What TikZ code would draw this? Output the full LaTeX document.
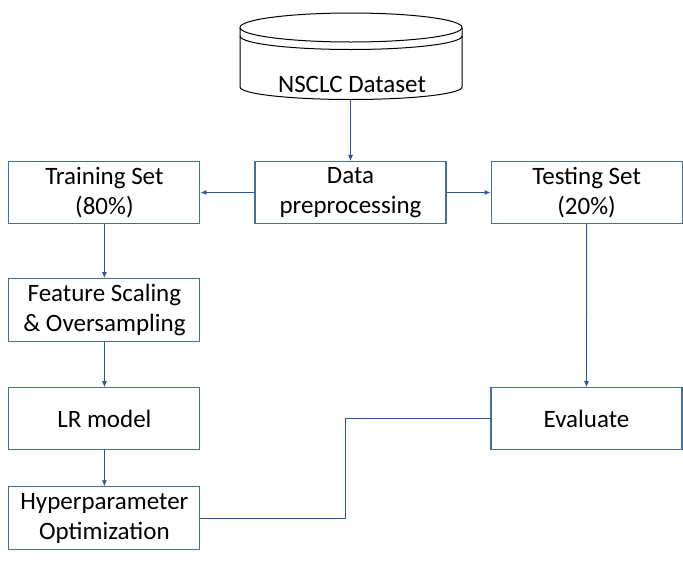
\documentclass[tikz,border=0pt]{standalone}
\usepackage{fontspec}
\setmainfont{Carlito}
\usetikzlibrary{positioning, arrows.meta}
\definecolor{boxline}{RGB}{65,113,156}
\definecolor{linkline}{RGB}{47,85,151}
\tikzstyle{module} = [rectangle, minimum width=191pt, minimum height=62pt, text centered, align=center, draw=boxline, line width=1.1pt, inner sep=0pt, font=\fontsize{25}{30}\selectfont]
\tikzstyle{link} = [draw=linkline, line width=0.9pt, -{Latex[length=6pt,width=5pt]}]
\tikzstyle{wire} = [draw=linkline, line width=0.9pt]

\begin{document}
\begin{tikzpicture}[x=1pt, y=-1pt]
        \useasboundingbox (0,0) rectangle (683,571);

        % dataset cylinder
        \draw[black, line width=1pt] (240,27.5) -- (240,87) arc[start angle=180, end angle=0, x radius=111, y radius=12.5] -- (462,27.5);
        \draw[black, line width=1pt] (351,27.5) ellipse [x radius=111, y radius=14.5];
        \draw[black, line width=1pt] (240,36) arc[start angle=180, end angle=0, x radius=111, y radius=13.5];
        \node[font=\fontsize{25}{30}\selectfont] (dataset) at (352,84) {NSCLC Dataset};
        \coordinate (dsbot) at (350.5,99.5);

        \node[module] (data) at (350.5,192.5) {Data\\preprocessing};
        \node[module, left=54pt of data] (train) {Training Set\\(80\%)};
        \node[module, right=44pt of data] (test) {Testing Set\\(20\%)};
        \node[module, minimum height=63pt, below=54pt of train] (scaling) {Feature Scaling\\\& Oversampling};
        \node[module, below=45pt of scaling] (lr) {LR model};
        \node[module, minimum height=63pt, below=36pt of lr] (hyper) {Hyperparameter\\Optimization};
        \node[module, right=290pt of lr] (eval) {Evaluate};

        \draw[link] (dsbot) -- (data.north);
        \draw[link] (data) -- (train);
        \draw[link] (data) -- (test);
        \draw[link] (train) -- (scaling);
        \draw[link] (scaling) -- (lr);
        \draw[link] (lr) -- (hyper);
        \draw[link] (test) -- (eval);
        \draw[wire] (hyper.east) -- ++(145,0) |- (eval.west);
    \end{tikzpicture}
\end{document}
